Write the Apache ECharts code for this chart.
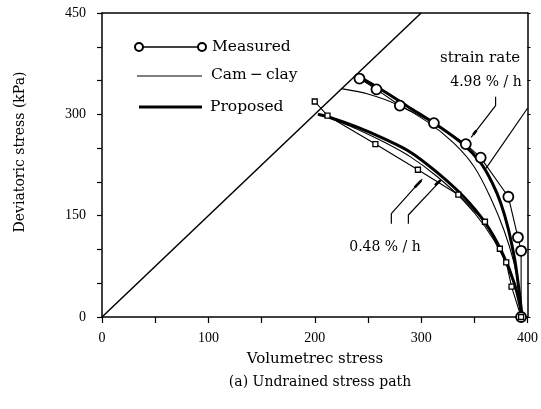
<!DOCTYPE html>
<html>
<head>
<meta charset="utf-8">
<script src="https://cdn.jsdelivr.net/npm/echarts@6/dist/echarts.min.js"></script>
<style>
  html, body { margin: 0; padding: 0; background: #fff; }
  #chart { width: 541px; height: 409px; }
</style>
</head>
<body>
<div id="chart"></div>
<script>
// Axis tick labels (p: volumetric stress, q: deviatoric stress, kPa)
const xTickLabels = [0, 100, 200, 300, 400];
const yTickLabels = [0, 150, 300, 450];

// Critical state line q = M p
const criticalStateLine = [[0, 0], [300, 450]];

// Measured undrained paths: strain rate 4.98 %/h (circles) and 0.48 %/h (squares)
const measuredFast = [[242, 353], [258, 337], [280, 313], [312, 287], [342, 256], [356, 236], [382, 178], [391, 118], [394, 98], [394, 0]];
const measuredSlow = [[200, 319], [212, 298], [257, 256], [297, 218], [335, 181], [360, 141], [374, 101], [380, 81], [385, 45], [394, 0]];

// Cam-clay predictions
const camClayFast = [[225, 338], [250, 330], [278, 314], [305, 290], [331, 257], [350, 222], [366, 174], [378, 128], [387, 82], [392, 40], [395, 0]];
const camClaySlow = [[203, 300], [215, 294], [240, 278], [265, 259], [290, 237], [315, 208], [340, 172], [360, 134], [376, 92], [388, 46], [395, 0]];

// Proposed model predictions
const proposedFast = [[239, 358], [262, 337], [288, 311], [315, 284], [340, 255], [356, 228], [367, 198], [375, 168], [382, 130], [388, 85], [392, 40], [395, 0]];
const proposedSlow = [[203, 300], [215, 295], [240, 281], [265, 264], [290, 244], [315, 214], [340, 178], [360, 140], [376, 96], [388, 48], [395, 0]];

// Leader lines from the strain-rate labels to the curves, with their heavier tips
const leaderFastA = [[370, 326], [370, 313], [347, 266]];
const leaderFastB = [[400, 309], [361, 220]];
const leaderSlowA = [[272, 138], [272, 153], [301, 204]];
const leaderSlowB = [[288, 138], [288, 151], [319, 203]];
const leaderTipFastA = [[352, 276], [349, 270]];
const leaderTipSlowA = [[294, 192], [300, 202]];
const leaderTipSlowB = [[313, 195], [318, 202]];

const SERIF = '"DejaVu Serif", "Liberation Serif", serif';
const TIMES = '"Liberation Serif", "DejaVu Serif", serif';

const chart = echarts.init(document.getElementById('chart'), null, { renderer: 'canvas' });

function plain(data, width) {
  return {
    type: 'line', data: data, symbol: 'none', silent: true, animation: false,
    lineStyle: { color: '#000', width: width }
  };
}
function curve(data, width) {
  const s = plain(data, width);
  s.smooth = 0.35;
  return s;
}

const axisLabelStyle = { color: '#000', fontFamily: TIMES, fontSize: 14 };
const frameLine = { show: true, onZero: false, lineStyle: { color: '#000', width: 1.5 } };

chart.setOption({
  animation: false,
  backgroundColor: '#fff',
  grid: { left: 102, right: 11, top: 13, bottom: 92, containLabel: false },
  xAxis: [{
    type: 'value', min: 0, max: 400, interval: 50,
    axisLine: frameLine,
    axisTick: { show: true, length: 6, inside: false, lineStyle: { color: '#000', width: 1.2 } },
    axisLabel: {
      ...axisLabelStyle, margin: 14,
      formatter: v => (xTickLabels.indexOf(v) >= 0 ? String(v) : '')
    },
    splitLine: { show: false }
  }, {
    type: 'value', position: 'top', min: 0, max: 400, interval: 50,
    axisLine: frameLine,
    axisTick: { show: false }, axisLabel: { show: false }, splitLine: { show: false }
  }],
  yAxis: [{
    type: 'value', min: 0, max: 450, interval: 50,
    axisLine: frameLine,
    axisTick: { show: true, length: 5, inside: false, lineStyle: { color: '#000', width: 1.2 } },
    axisLabel: {
      ...axisLabelStyle, margin: 16,
      formatter: v => (yTickLabels.indexOf(v) >= 0 ? String(v) : '')
    },
    splitLine: { show: false }
  }, {
    type: 'value', position: 'right', min: 0, max: 450, interval: 50,
    axisLine: frameLine,
    axisTick: { show: true, length: 3, lineStyle: { color: '#000', width: 1 } },
    axisLabel: { show: false }, splitLine: { show: false }
  }],
  series: [
    plain(criticalStateLine, 1.5),
    curve(camClayFast, 1.1),
    curve(camClaySlow, 1.1),
    curve(proposedFast, 3),
    curve(proposedSlow, 3),
    plain(leaderFastA, 1.2),
    plain(leaderFastB, 1.2),
    plain(leaderSlowA, 1.2),
    plain(leaderSlowB, 1.2),
    plain(leaderTipFastA, 2.6),
    plain(leaderTipSlowA, 2.6),
    plain(leaderTipSlowB, 2.6),
    {
      type: 'line', data: measuredFast, silent: true,
      symbol: 'circle', symbolSize: 10, showAllSymbol: true,
      lineStyle: { color: '#000', width: 1.1 },
      itemStyle: { color: '#fff', borderColor: '#000', borderWidth: 1.8 }
    },
    {
      type: 'line', data: measuredSlow, silent: true,
      symbol: 'rect', symbolSize: 5, showAllSymbol: true,
      lineStyle: { color: '#000', width: 1.1 },
      itemStyle: { color: '#fff', borderColor: '#000', borderWidth: 1.3 }
    }
  ],
  graphic: [
    // legend
    { type: 'line', shape: { x1: 139, y1: 47, x2: 202, y2: 47 }, style: { stroke: '#000', lineWidth: 1.5 }, z: 10 },
    { type: 'circle', shape: { cx: 139, cy: 47, r: 4 }, style: { fill: '#fff', stroke: '#000', lineWidth: 2 }, z: 11 },
    { type: 'circle', shape: { cx: 202, cy: 47, r: 4 }, style: { fill: '#fff', stroke: '#000', lineWidth: 2 }, z: 11 },
    { type: 'text', x: 212, y: 47, style: { text: 'Measured', font: '15.5px ' + SERIF, fill: '#000', verticalAlign: 'middle' }, z: 10 },
    { type: 'line', shape: { x1: 137, y1: 76, x2: 202, y2: 76 }, style: { stroke: '#000', lineWidth: 1.1 }, z: 10 },
    { type: 'text', x: 211, y: 75, style: { text: 'Cam\u2009\u2212\u2009clay', font: '15.5px ' + SERIF, fill: '#000', verticalAlign: 'middle' }, z: 10 },
    { type: 'line', shape: { x1: 139, y1: 107, x2: 202, y2: 107 }, style: { stroke: '#000', lineWidth: 3 }, z: 10 },
    { type: 'text', x: 210, y: 107, style: { text: 'Proposed', font: '15.5px ' + SERIF, fill: '#000', verticalAlign: 'middle' }, z: 10 },
    // strain-rate annotations
    { type: 'text', x: 480, y: 58, style: { text: 'strain rate', font: '15px ' + SERIF, fill: '#000', align: 'center', verticalAlign: 'middle' }, z: 10 },
    { type: 'text', x: 486, y: 82, style: { text: '4.98 % / h', font: '14px ' + SERIF, fill: '#000', align: 'center', verticalAlign: 'middle' }, z: 10 },
    { type: 'text', x: 385, y: 247, style: { text: '0.48 % / h', font: '14px ' + SERIF, fill: '#000', align: 'center', verticalAlign: 'middle' }, z: 10 },
    // axis titles and caption
    { type: 'text', x: 20, y: 152, rotation: Math.PI / 2, style: { text: 'Deviatoric stress (kPa)', font: '14px ' + SERIF, fill: '#000', align: 'center', verticalAlign: 'middle' }, z: 10 },
    { type: 'text', x: 315, y: 359, style: { text: 'Volumetrec stress', font: '15px ' + SERIF, fill: '#000', align: 'center', verticalAlign: 'middle' }, z: 10 },
    { type: 'text', x: 320, y: 382, style: { text: '(a) Undrained stress path', font: '14px ' + SERIF, fill: '#000', align: 'center', verticalAlign: 'middle' }, z: 10 }
  ]
});
</script>
</body>
</html>
